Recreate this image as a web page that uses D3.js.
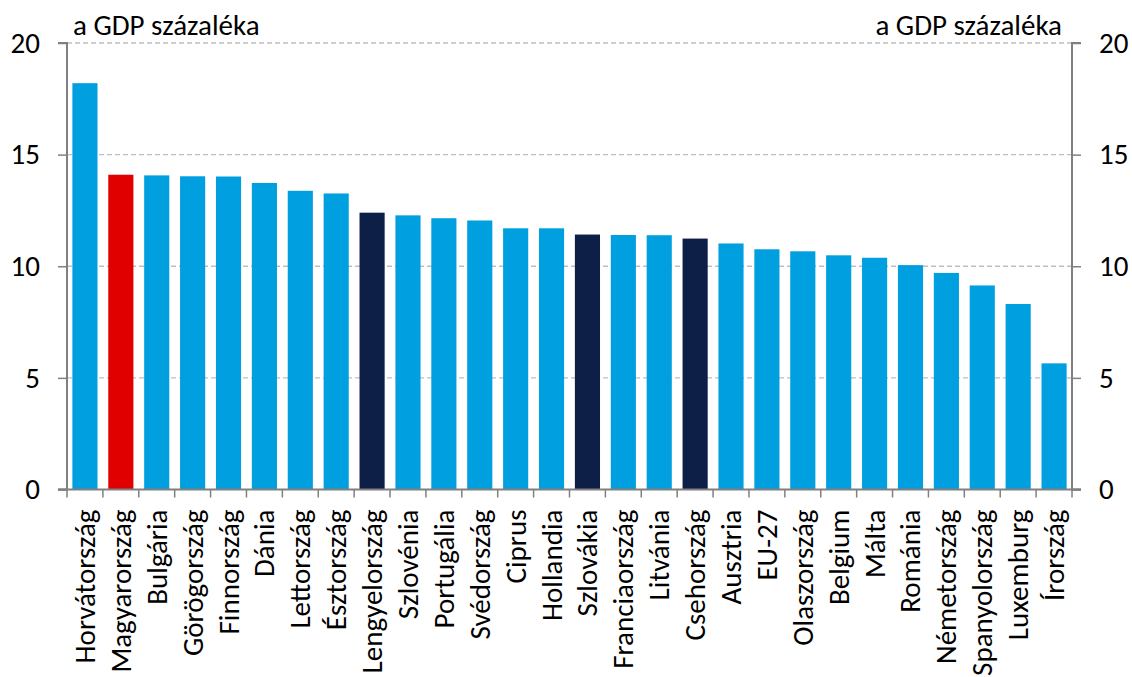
<!DOCTYPE html>
<html>
<head>
<meta charset="utf-8">
<script src="https://cdn.jsdelivr.net/npm/d3@7"></script>
<style>
  html, body { margin: 0; padding: 0; background: #fff; }
  svg { display: block; font-family: Carlito, "Open Sans", sans-serif; }
</style>
</head>
<body>
<svg id="chart" width="1132" height="677"></svg>
<script>
const categories = ["Horvátország","Magyarország","Bulgária","Görögország","Finnország","Dánia","Lettország","Észtország","Lengyelország","Szlovénia","Portugália","Svédország","Ciprus","Hollandia","Szlovákia","Franciaország","Litvánia","Csehország","Ausztria","EU-27","Olaszország","Belgium","Málta","Románia","Németország","Spanyolország","Luxemburg","Írország"];
const values = [18.2,14.1,14.07,14.03,14.02,13.73,13.38,13.26,12.4,12.28,12.15,12.05,11.7,11.7,11.42,11.4,11.39,11.24,11.02,10.76,10.67,10.49,10.38,10.05,9.7,9.14,8.31,5.65];
const groups = ["other","hu","other","other","other","other","other","other","v4","other","other","other","other","other","v4","other","other","v4","other","other","other","other","other","other","other","other","other","other"];
const yTicks = [0,5,10,15,20];
const unitLabel = "a GDP százaléka";
const colors = {other:"#009FE0", hu:"#E00000", v4:"#0D1F47"};

const svg = d3.select("#chart");
const mLeft = 67, mRight = 1072, mTop = 43, mBottom = 489.5;
const x = d3.scaleBand().domain(categories).range([mLeft, mRight]).paddingInner(0.3).paddingOuter(0.15);
const y = d3.scaleLinear().domain([0, 20]).range([mBottom, mTop]);

// gridlines
svg.append("g").selectAll("line").data(yTicks.filter(t => t > 0)).join("line")
  .attr("x1", mLeft).attr("x2", mRight)
  .attr("y1", d => y(d)).attr("y2", d => y(d))
  .attr("stroke", "#BFBFBF").attr("stroke-width", 1.3).attr("stroke-dasharray", "5,3");

// bars
svg.append("g").selectAll("rect").data(categories).join("rect")
  .attr("x", d => x(d)).attr("width", x.bandwidth())
  .attr("y", (d, i) => y(values[i])).attr("height", (d, i) => y(0) - y(values[i]))
  .attr("fill", (d, i) => colors[groups[i]]);

// side axes
const axL = svg.append("g").attr("transform", `translate(${mLeft},0)`)
  .call(d3.axisLeft(y).tickValues(yTicks).tickSize(9).tickPadding(18));
const axR = svg.append("g").attr("transform", `translate(${mRight},0)`)
  .call(d3.axisRight(y).tickValues(yTicks).tickSize(9).tickPadding(18));
[axL, axR].forEach(a => {
  a.attr("font-family", null).attr("font-size", null);
  a.select(".domain").attr("stroke", "#808080").attr("stroke-width", 2);
  a.selectAll(".tick line").attr("stroke", "#808080").attr("stroke-width", 1.5);
  a.selectAll(".tick text").attr("font-size", 29).attr("fill", "#000");
});
axL.select(".domain").attr("d", `M-9,${y(20)}H0V${y(0)}H-9`);
axR.select(".domain").attr("d", `M9,${y(20)}H0V${y(0)}H9`);

// bottom axis
svg.append("line").attr("x1", mLeft - 9).attr("x2", mRight + 9).attr("y1", y(0)).attr("y2", y(0))
  .attr("stroke", "#808080").attr("stroke-width", 2);
const step = x.step();
const bounds = d3.range(categories.length + 1).map(i => mLeft + i * step);
svg.append("g").selectAll("line").data(bounds).join("line")
  .attr("x1", d => d).attr("x2", d => d).attr("y1", y(0)).attr("y2", y(0) + 8)
  .attr("stroke", "#808080").attr("stroke-width", 1.5);

// category labels
svg.append("g").selectAll("text").data(categories).join("text")
  .attr("transform", d => `translate(${x(d) + x.bandwidth() / 2 + 10},${y(0) + 20}) rotate(-90)`)
  .attr("text-anchor", "end").attr("font-size", 29).attr("fill", "#000")
  .text(d => d);

// unit labels
svg.append("text").attr("x", 73).attr("y", 35).attr("font-size", 29).attr("fill", "#000").text(unitLabel);
svg.append("text").attr("x", 1062).attr("y", 35).attr("text-anchor", "end").attr("font-size", 29).attr("fill", "#000").text(unitLabel);
</script>
</body>
</html>
